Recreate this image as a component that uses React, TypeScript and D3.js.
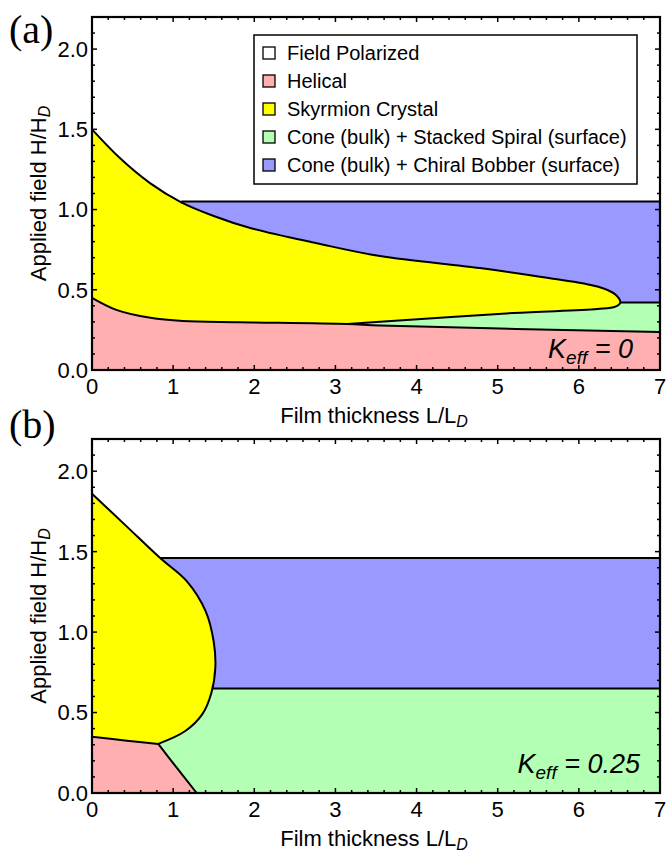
import React from 'react';
import * as d3 from 'd3';

// phase names and fills
const phaseNames = [
  'Field Polarized',
  'Helical',
  'Skyrmion Crystal',
  'Cone (bulk) + Stacked Spiral (surface)',
  'Cone (bulk) + Chiral Bobber (surface)',
];
const phaseColors = ['#ffffff', '#ffafaf', '#ffff00', '#b3ffb3', '#9999ff'];

// axis ticks
const xTicks = [0, 1, 2, 3, 4, 5, 6, 7];
const yTicks = [0, 0.5, 1.0, 1.5, 2.0];

// panel (a), K_eff = 0  -- boundaries
const aSkyrmionTopX = [0, 0.35, 0.715, 1.1, 1.5, 1.95, 2.77, 3.55, 4.78, 5.61, 6.23, 6.45, 6.51];
const aSkyrmionTopY = [1.5, 1.318, 1.165, 1.045, 0.96, 0.885, 0.79, 0.71, 0.635, 0.575, 0.52, 0.47, 0.42];
const aSkyrmionBottomX = [6.45, 6.23, 5.19, 3.55, 3.15];
const aSkyrmionBottomY = [0.395, 0.38, 0.355, 0.30, 0.287];
const aHelicalX = [0, 0.3, 0.72, 1.12, 1.82, 3.15, 3.55, 7];
const aHelicalY = [0.45, 0.375, 0.325, 0.305, 0.298, 0.287, 0.277, 0.237];
const aBobberTop = 1.05;
const aBobberStartX = 1.1;
const aSpiralTop = 0.42;
const aSpiralStartX = 3.15;
const aTipX = 6.51;

// panel (b), K_eff = 0.25
const bSkyrmionX = [0, 0.42, 0.84, 1.17, 1.40, 1.50, 1.52, 1.47, 1.36, 1.15, 0.817];
const bSkyrmionY = [1.86, 1.66, 1.46, 1.315, 1.13, 0.94, 0.78, 0.62, 0.49, 0.385, 0.305];
const bHelicalUpperX = [0, 0.43, 0.817];
const bHelicalUpperY = [0.35, 0.325, 0.305];
const bHelicalLowerX = [0.817, 1.0, 1.29];
const bHelicalLowerY = [0.305, 0.185, 0];
const bBobberTop = 1.46;
const bBobberStartX = 0.84;
const bSpiralTop = 0.65;
const bSpiralStartX = 1.49;

const W = 668;
const H = 854;
const left = 92;
const right = 660;
const font = '"Liberation Sans", Arial, sans-serif';

const zip = (xs: number[], ys: number[]) => xs.map((x, i) => [x, ys[i]] as [number, number]);

function Frame({ x, y, top, bottom }: any) {
  const minorX = d3.range(0, 7.001, 0.2);
  const minorY = d3.range(0, 2.2001, 0.1);
  return (
    <g>
      {minorX.map((v, i) => {
        const major = Math.abs(v - Math.round(v)) < 1e-6;
        const len = major ? 5 : 3;
        return (
          <g key={'x' + i}>
            <line x1={x(v)} x2={x(v)} y1={bottom} y2={bottom - len} stroke="#000" strokeWidth={1.5} />
            <line x1={x(v)} x2={x(v)} y1={top} y2={top + len} stroke="#000" strokeWidth={1.5} />
          </g>
        );
      })}
      {minorY.map((v, i) => {
        const major = Math.abs(v * 2 - Math.round(v * 2)) < 1e-6;
        const len = major ? 5 : 3;
        return (
          <g key={'y' + i}>
            <line x1={left} x2={left + len} y1={y(v)} y2={y(v)} stroke="#000" strokeWidth={1.5} />
            <line x1={right} x2={right - len} y1={y(v)} y2={y(v)} stroke="#000" strokeWidth={1.5} />
          </g>
        );
      })}
      <rect x={left} y={top} width={right - left} height={bottom - top} fill="none" stroke="#000" strokeWidth={2.2} />
      {xTicks.map((t) => (
        <text key={'xl' + t} x={x(t)} y={bottom + 24} textAnchor="middle" fontSize={22} fontFamily={font}>{t}</text>
      ))}
      {yTicks.map((t) => (
        <text key={'yl' + t} x={left - 4} y={y(t)} dy="0.36em" textAnchor="end" fontSize={22} fontFamily={font}>{d3.format('.1f')(t)}</text>
      ))}
      <text x={(left + right) / 2 - 2} y={bottom + 53} textAnchor="middle" fontSize={22} fontFamily={font}>
        Film thickness L/L<tspan fontStyle="italic" fontSize={16} dy={4}>D</tspan>
      </text>
      <text transform={`translate(46,${(top + bottom) / 2}) rotate(-90)`} textAnchor="middle" fontSize={22} fontFamily={font}>
        Applied field H/H<tspan fontStyle="italic" fontSize={16} dy={4}>D</tspan>
      </text>
    </g>
  );
}

function PanelA() {
  const top = 17, bottom = 370;
  const x = d3.scaleLinear().domain([0, 7]).range([left, right]);
  const y = d3.scaleLinear().domain([0, 2.2]).range([bottom, top]);
  const line = d3.line<[number, number]>().x((d) => x(d[0])).y((d) => y(d[1])).curve(d3.curveCatmullRom);
  const skyBoundary = zip(aSkyrmionTopX, aSkyrmionTopY).concat(zip(aSkyrmionBottomX, aSkyrmionBottomY));
  const helical = zip(aHelicalX, aHelicalY);
  const helicalLeft = helical.filter((d) => d[0] <= aSpiralStartX).reverse();
  const skyFill = line(skyBoundary)! + line(helicalLeft)!.replace(/^M/, 'L') + 'Z';
  const helFill = line(helical)! + `L${x(7)},${y(0)}L${x(0)},${y(0)}Z`;
  return (
    <g>
      <rect x={x(aBobberStartX)} y={y(aBobberTop)} width={x(7) - x(aBobberStartX)} height={y(0) - y(aBobberTop)} fill={phaseColors[4]} />
      <rect x={x(aSpiralStartX)} y={y(aSpiralTop)} width={x(7) - x(aSpiralStartX)} height={y(0) - y(aSpiralTop)} fill={phaseColors[3]} />
      <path d={skyFill} fill={phaseColors[2]} />
      <path d={helFill} fill={phaseColors[1]} />
      <path d={line(skyBoundary)!} fill="none" stroke="#000" strokeWidth={2} />
      <path d={line(helical)!} fill="none" stroke="#000" strokeWidth={2} />
      <line x1={x(aBobberStartX)} x2={x(7)} y1={y(aBobberTop)} y2={y(aBobberTop)} stroke="#000" strokeWidth={2} />
      <line x1={x(aTipX)} x2={x(7)} y1={y(aSpiralTop)} y2={y(aSpiralTop)} stroke="#000" strokeWidth={2} />
      <text x={633} y={358} textAnchor="end" fontSize={27} fontStyle="italic" fontFamily={font}>
        K<tspan fontSize={19} dy={6}>eff</tspan><tspan dy={-6}> = 0</tspan>
      </text>
      <Frame x={x} y={y} top={top} bottom={bottom} />
      {/* legend */}
      <rect x={254} y={35} width={383} height={149} fill="#fff" stroke="#000" strokeWidth={1.5} />
      {phaseNames.map((n, i) => (
        <g key={n}>
          <rect x={263} y={53 + i * 28 - 6} width={12} height={12} fill={phaseColors[i]} stroke="#000" strokeWidth={1.3} />
          <text x={287} y={53 + i * 28} dy="0.36em" fontSize={20} fontFamily={font}>{n}</text>
        </g>
      ))}
      <text x={9} y={43} fontSize={40} fontFamily='"Liberation Serif", serif'>(a)</text>
    </g>
  );
}

function PanelB() {
  const top = 439, bottom = 793;
  const x = d3.scaleLinear().domain([0, 7]).range([left, right]);
  const y = d3.scaleLinear().domain([0, 2.2]).range([bottom, top]);
  const line = d3.line<[number, number]>().x((d) => x(d[0])).y((d) => y(d[1])).curve(d3.curveCatmullRom);
  const sky = zip(bSkyrmionX, bSkyrmionY);
  const helUp = zip(bHelicalUpperX, bHelicalUpperY);
  const helLow = zip(bHelicalLowerX, bHelicalLowerY);
  const skyFill = line(sky)! + line(helUp.slice().reverse())!.replace(/^M/, 'L') + 'Z';
  const helFill = line(helUp)! + line(helLow)!.replace(/^M/, 'L') + `L${x(0)},${y(0)}Z`;
  return (
    <g>
      <rect x={x(0)} y={y(bBobberTop)} width={x(7) - x(0)} height={y(bSpiralTop) - y(bBobberTop)} fill={phaseColors[4]} />
      <rect x={x(0)} y={y(bSpiralTop)} width={x(7) - x(0)} height={y(0) - y(bSpiralTop)} fill={phaseColors[3]} />
      <path d={skyFill} fill={phaseColors[2]} />
      <path d={helFill} fill={phaseColors[1]} />
      <path d={line(sky)!} fill="none" stroke="#000" strokeWidth={2} />
      <path d={line(helUp)!} fill="none" stroke="#000" strokeWidth={2} />
      <path d={line(helLow)!} fill="none" stroke="#000" strokeWidth={2} />
      <line x1={x(bBobberStartX)} x2={x(7)} y1={y(bBobberTop)} y2={y(bBobberTop)} stroke="#000" strokeWidth={2} />
      <line x1={x(bSpiralStartX)} x2={x(7)} y1={y(bSpiralTop)} y2={y(bSpiralTop)} stroke="#000" strokeWidth={2} />
      <text x={640} y={773} textAnchor="end" fontSize={27} fontStyle="italic" fontFamily={font}>
        K<tspan fontSize={19} dy={6}>eff</tspan><tspan dy={-6}> = 0.25</tspan>
      </text>
      <Frame x={x} y={y} top={top} bottom={bottom} />
      <text x={9} y={438} fontSize={40} fontFamily='"Liberation Serif", serif'>(b)</text>
    </g>
  );
}

export default function App() {
  return (
    <svg width={W} height={H} style={{ position: 'absolute', left: 0, top: 0, background: '#fff' }}>
      <PanelA />
      <PanelB />
    </svg>
  );
}
